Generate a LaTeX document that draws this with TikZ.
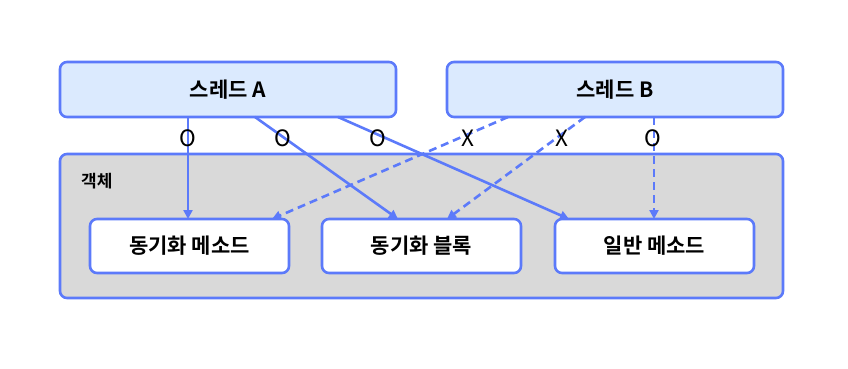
\documentclass[tikz,border=0pt]{standalone}
\usepackage{fontspec}
\setmainfont{Noto Sans CJK KR}
\newfontfamily\krb{Noto Sans CJK KR Bold}
\usetikzlibrary{arrows.meta}
\definecolor{lineblue}{RGB}{92,122,250}
\definecolor{thfill}{RGB}{219,234,254}
\definecolor{objfill}{RGB}{217,217,217}
\begin{document}
\begin{tikzpicture}[x=1pt,y=-1pt,
  thread/.style={draw=lineblue,line width=2.6pt,fill=thfill,rounded corners=7pt,minimum width=336pt,minimum height=55pt,font=\krb\fontsize{21}{23}\selectfont},
  obj/.style={draw=lineblue,line width=2.6pt,fill=objfill,rounded corners=7pt},
  method/.style={draw=lineblue,line width=2.6pt,fill=white,rounded corners=7pt,minimum width=199pt,minimum height=54pt,font=\krb\fontsize{21}{23}\selectfont},
  conn/.style={draw=lineblue,line width=2.6pt,-{Triangle[length=9pt,width=9pt]}},
  dconn/.style={conn,dash pattern=on 8pt off 5pt},
  lbl/.style={font=\fontsize{22.5}{24}\selectfont,text=black,inner sep=0pt}
]
\useasboundingbox (0,0) rectangle (848,368);
\node[obj,minimum width=723pt,minimum height=144pt] (obj) at (421.5,226) {};
\node[font=\krb\fontsize{17}{18}\selectfont,anchor=west,inner sep=0pt] (objlabel) at (81,181) {객체};
\node[thread] (ta) at (228,89.5) {스레드 A};
\node[thread] (tb) at (615,89.5) {스레드 B};
\node[method] (m1) at (189.5,246) {동기화 메소드};
\node[method] (m2) at (421.5,246) {동기화 블록};
\node[method] (m3) at (654.5,246) {일반 메소드};
% connectors
\coordinate (a1) at (188,117); \coordinate (a1e) at (188,219);
\coordinate (a2) at (255,117); \coordinate (a2e) at (398,219);
\coordinate (a3) at (338,117); \coordinate (a3e) at (569,219);
\coordinate (b1) at (508,117); \coordinate (b1e) at (272,219);
\coordinate (b2) at (585,117); \coordinate (b2e) at (447,219);
\coordinate (b3) at (654,117); \coordinate (b3e) at (654,219);
\draw[conn] (a1) -- (a1e);
\draw[conn] (a2) -- (a2e);
\draw[conn] (a3) -- (a3e);
\draw[dconn] (b1) -- (b1e);
\draw[dconn] (b2) -- (b2e);
\draw[dconn] (b3) -- (b3e);
\node[lbl] (l1) at (188,138) {O};
\node[lbl] (l2) at (283,138) {O};
\node[lbl] (l3) at (378,138) {O};
\node[lbl] (l4) at (468,138) {X};
\node[lbl] (l5) at (562,138) {X};
\node[lbl] (l6) at (653,138) {O};
\end{tikzpicture}
\end{document}
